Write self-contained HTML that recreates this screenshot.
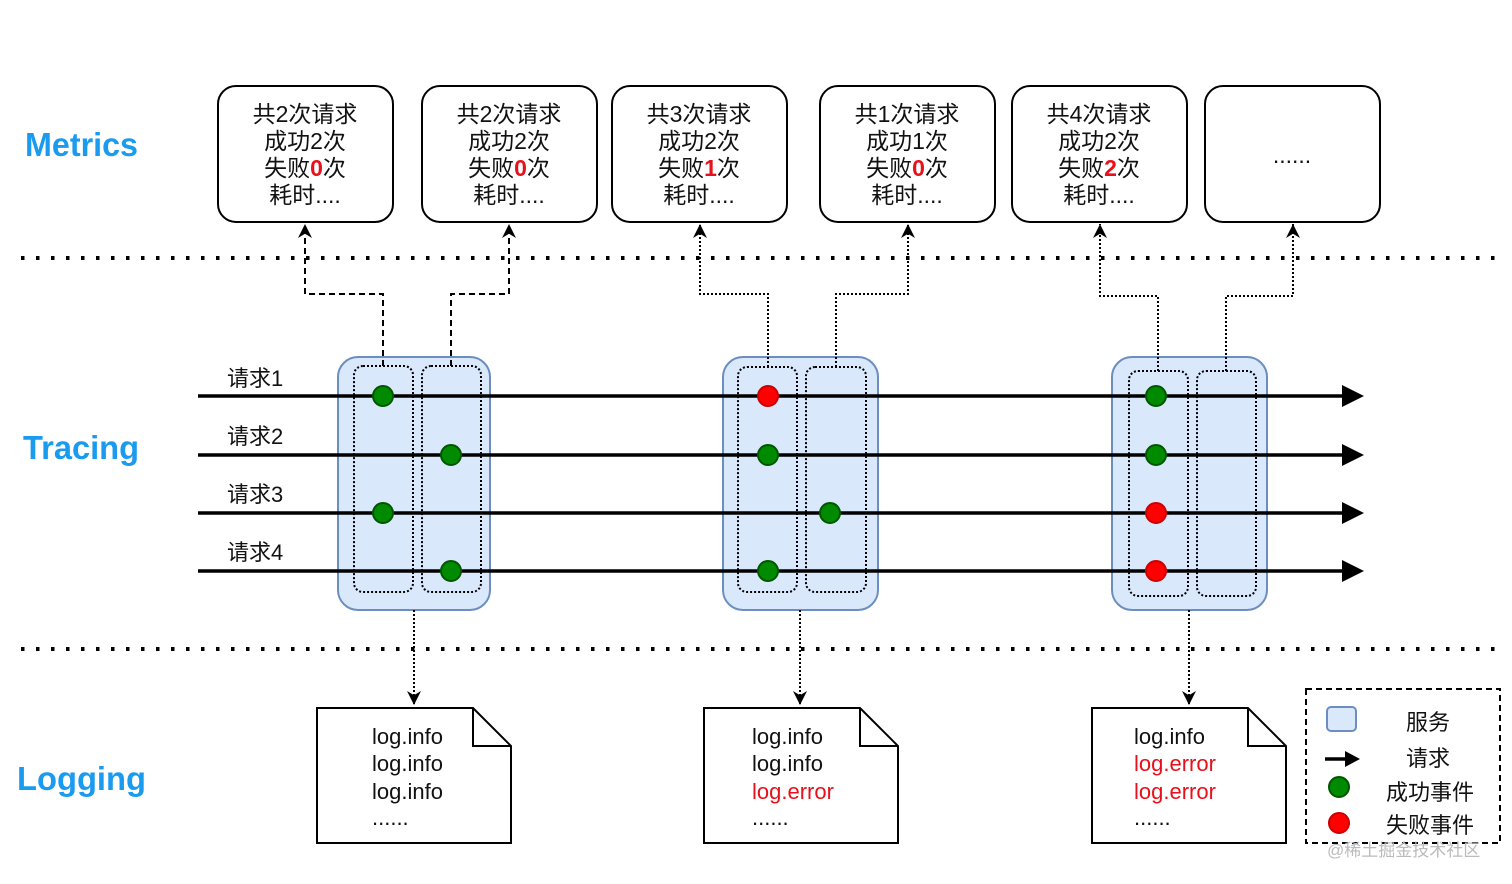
<!DOCTYPE html>
<html><head><meta charset="utf-8"><style>
html,body{margin:0;padding:0;background:#fff;}
svg{display:block;}
text{font-family:"Liberation Sans","Noto Sans CJK SC",sans-serif;}
</style></head><body>
<svg width="1512" height="884" viewBox="0 0 1512 884" xmlns="http://www.w3.org/2000/svg">
<defs>
<marker id="ah2" viewBox="0 0 10 10" refX="10" refY="5" markerWidth="14" markerHeight="14" markerUnits="userSpaceOnUse" orient="auto"><path d="M0,0 L10,5 L0,10 L3,5 z" fill="#000"/></marker>
</defs>
<rect width="1512" height="884" fill="#fff"/>
<g font-weight="bold" font-size="33" fill="#1a9bf0">
<text x="25" y="156" textLength="113" lengthAdjust="spacingAndGlyphs">Metrics</text>
<text x="23" y="459" textLength="116" lengthAdjust="spacingAndGlyphs">Tracing</text>
<text x="17" y="790" textLength="129" lengthAdjust="spacingAndGlyphs">Logging</text>
</g>
<g stroke="#000" stroke-width="4" stroke-dasharray="3.5 11.5">
<line x1="21" y1="258" x2="1505" y2="258"/>
<line x1="21" y1="649" x2="1505" y2="649"/>
</g>
<g fill="#fff" stroke="#000" stroke-width="2">
<rect x="218" y="86" width="175" height="136" rx="18"/>
<rect x="422" y="86" width="175" height="136" rx="18"/>
<rect x="612" y="86" width="175" height="136" rx="18"/>
<rect x="820" y="86" width="175" height="136" rx="18"/>
<rect x="1012" y="86" width="175" height="136" rx="18"/>
<rect x="1205" y="86" width="175" height="136" rx="18"/>
</g>
<g font-size="23" fill="#111" text-anchor="middle">
<text x="305" y="122">共2次请求</text><text x="305" y="149">成功2次</text><text x="305" y="176">失败<tspan fill="#e8101a" font-weight="bold">0</tspan>次</text><text x="305" y="203">耗时....</text>
<text x="509" y="122">共2次请求</text><text x="509" y="149">成功2次</text><text x="509" y="176">失败<tspan fill="#e8101a" font-weight="bold">0</tspan>次</text><text x="509" y="203">耗时....</text>
<text x="699" y="122">共3次请求</text><text x="699" y="149">成功2次</text><text x="699" y="176">失败<tspan fill="#e8101a" font-weight="bold">1</tspan>次</text><text x="699" y="203">耗时....</text>
<text x="907" y="122">共1次请求</text><text x="907" y="149">成功1次</text><text x="907" y="176">失败<tspan fill="#e8101a" font-weight="bold">0</tspan>次</text><text x="907" y="203">耗时....</text>
<text x="1099" y="122">共4次请求</text><text x="1099" y="149">成功2次</text><text x="1099" y="176">失败<tspan fill="#e8101a" font-weight="bold">2</tspan>次</text><text x="1099" y="203">耗时....</text>
<text x="1292" y="163">......</text>
</g>
<g fill="#dae8fc" stroke="#6c8ebf" stroke-width="2">
<rect x="338" y="357" width="152" height="253" rx="20"/>
<rect x="723" y="357" width="155" height="253" rx="20"/>
<rect x="1112" y="357" width="155" height="253" rx="20"/>
</g>
<g fill="none" stroke="#000" stroke-width="2" stroke-dasharray="2 2">
<rect x="354" y="366" width="59" height="226" rx="9"/>
<rect x="422" y="366" width="59" height="226" rx="9"/>
<rect x="738" y="367" width="59" height="225" rx="9"/>
<rect x="806" y="367" width="60" height="225" rx="9"/>
<rect x="1129" y="371" width="59" height="225" rx="9"/>
<rect x="1197" y="371" width="59" height="225" rx="9"/>
</g>
<g fill="none" stroke="#000" stroke-width="2" stroke-dasharray="6 4">
<path d="M383,366 V294 H305 V224" marker-end="url(#ah2)"/>
<path d="M451,366 V294 H509 V224" marker-end="url(#ah2)"/>
</g>
<g fill="none" stroke="#000" stroke-width="2" stroke-dasharray="2 2">
<path d="M768,367 V294 H700 V224" marker-end="url(#ah2)"/>
<path d="M836,367 V294 H908 V224" marker-end="url(#ah2)"/>
<path d="M1158,371 V296 H1100 V224" marker-end="url(#ah2)"/>
<path d="M1226,371 V296 H1293 V224" marker-end="url(#ah2)"/>
<path d="M414,610 V705" marker-end="url(#ah2)"/>
<path d="M800,610 V705" marker-end="url(#ah2)"/>
<path d="M1189,610 V705" marker-end="url(#ah2)"/>
</g>
<g stroke="#000" stroke-width="3.5">
<line x1="198" y1="396" x2="1345" y2="396"/>
<line x1="198" y1="455" x2="1345" y2="455"/>
<line x1="198" y1="513" x2="1345" y2="513"/>
<line x1="198" y1="571" x2="1345" y2="571"/>
</g>
<g fill="#000">
<path d="M1342,385 L1364,396 L1342,407 z"/>
<path d="M1342,444 L1364,455 L1342,466 z"/>
<path d="M1342,502 L1364,513 L1342,524 z"/>
<path d="M1342,560 L1364,571 L1342,582 z"/>
</g>
<g font-size="22" fill="#111">
<text x="227" y="386">请求1</text>
<text x="227" y="444">请求2</text>
<text x="227" y="502">请求3</text>
<text x="227" y="560">请求4</text>
</g>
<g stroke-width="2">
<circle cx="383" cy="396" r="10" fill="#008a00" stroke="#005700"/>
<circle cx="451" cy="455" r="10" fill="#008a00" stroke="#005700"/>
<circle cx="383" cy="513" r="10" fill="#008a00" stroke="#005700"/>
<circle cx="451" cy="571" r="10" fill="#008a00" stroke="#005700"/>
<circle cx="768" cy="396" r="10" fill="#ff0000" stroke="#cc0000"/>
<circle cx="768" cy="455" r="10" fill="#008a00" stroke="#005700"/>
<circle cx="830" cy="513" r="10" fill="#008a00" stroke="#005700"/>
<circle cx="768" cy="571" r="10" fill="#008a00" stroke="#005700"/>
<circle cx="1156" cy="396" r="10" fill="#008a00" stroke="#005700"/>
<circle cx="1156" cy="455" r="10" fill="#008a00" stroke="#005700"/>
<circle cx="1156" cy="513" r="10" fill="#ff0000" stroke="#cc0000"/>
<circle cx="1156" cy="571" r="10" fill="#ff0000" stroke="#cc0000"/>
</g>
<g fill="#fff" stroke="#000" stroke-width="2">
<path d="M317,708 H473 L511,746 V843 H317 z"/><path d="M473,708 V746 H511" fill="none"/>
<path d="M704,708 H860 L898,746 V843 H704 z"/><path d="M860,708 V746 H898" fill="none"/>
<path d="M1092,708 H1248 L1286,746 V843 H1092 z"/><path d="M1248,708 V746 H1286" fill="none"/>
</g>
<g font-size="22" fill="#111">
<text x="372" y="744">log.info</text><text x="372" y="771">log.info</text><text x="372" y="799">log.info</text><text x="372" y="825">......</text>
<text x="752" y="744">log.info</text><text x="752" y="771">log.info</text><text x="752" y="799" fill="#e8101a">log.error</text><text x="752" y="825">......</text>
<text x="1134" y="744">log.info</text><text x="1134" y="771" fill="#e8101a">log.error</text><text x="1134" y="799" fill="#e8101a">log.error</text><text x="1134" y="825">......</text>
</g>
<rect x="1306" y="689" width="194" height="154" fill="none" stroke="#000" stroke-width="2" stroke-dasharray="6 4"/>
<rect x="1327" y="707" width="29" height="24" rx="4" fill="#dae8fc" stroke="#6c8ebf" stroke-width="2"/>
<line x1="1325" y1="759" x2="1348" y2="759" stroke="#000" stroke-width="3.5"/>
<path d="M1345,751 L1360,759 L1345,767 z" fill="#000"/>
<circle cx="1339" cy="787" r="10" fill="#008a00" stroke="#005700" stroke-width="2"/>
<circle cx="1339" cy="823" r="10" fill="#ff0000" stroke="#cc0000" stroke-width="2"/>
<g font-size="22" fill="#111">
<text x="1406" y="730">服务</text>
<text x="1406" y="766">请求</text>
<text x="1386" y="800">成功事件</text>
<text x="1386" y="833">失败事件</text>
</g>
<text x="1327" y="856" font-size="17" fill="#bbb">@稀土掘金技术社区</text>
</svg>
</body></html>
